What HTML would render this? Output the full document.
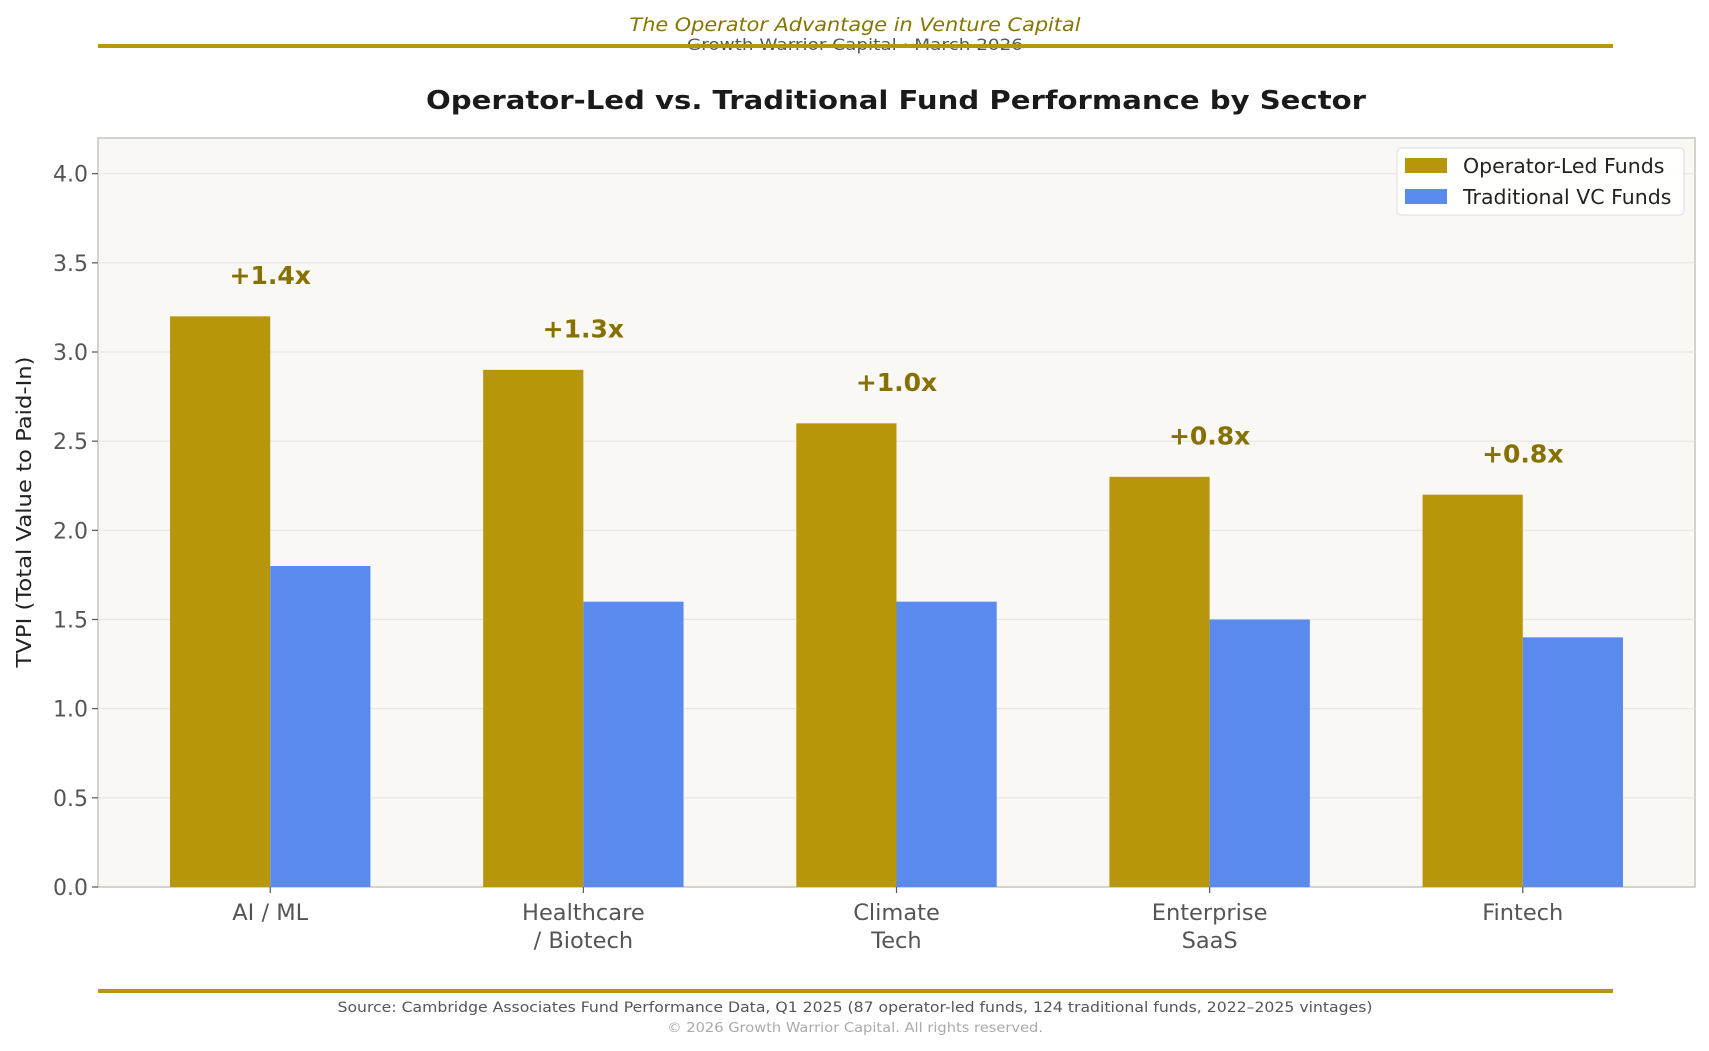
<!DOCTYPE html>
<html><head><meta charset="utf-8"><style>
html,body{margin:0;padding:0;background:#fff;}
svg{display:block;font-family:"DejaVu Sans","Liberation Sans",sans-serif;}
</style></head><body>
<svg id="chart" width="1709" height="1051" viewBox="0 0 1709 1051" xmlns="http://www.w3.org/2000/svg">
<text x="855" y="31" text-anchor="middle" font-size="19" font-style="italic" fill="#857500" textLength="451" lengthAdjust="spacingAndGlyphs">The Operator Advantage in Venture Capital</text>
<text x="855" y="50" text-anchor="middle" font-size="16" fill="#555" textLength="336" lengthAdjust="spacingAndGlyphs">Growth Warrior Capital  ·  March 2026</text>
<rect x="98" y="44" width="1515" height="4" fill="#b8960c"/>
<text x="896" y="109" text-anchor="middle" font-size="26" font-weight="bold" fill="#1a1a1a" textLength="940" lengthAdjust="spacingAndGlyphs">Operator-Led vs. Traditional Fund Performance by Sector</text>
<rect x="98" y="138" width="1597" height="749" fill="#f9f8f5" stroke="#c8c4bc" stroke-width="1.5"/>
<g id="grid"></g>
<g id="bars"></g>
<g id="yaxis"></g>
<g id="xaxis"></g>
<text transform="translate(31,512) rotate(-90)" text-anchor="middle" font-size="20" fill="#222" textLength="311" lengthAdjust="spacingAndGlyphs">TVPI (Total Value to Paid-In)</text>
<g>
<rect x="1397" y="148" width="287" height="67" rx="4" fill="#fff" fill-opacity="0.9" stroke="#ddd"/>
<rect x="1405" y="158" width="42" height="15" fill="#b8960c"/>
<text x="1463" y="173" font-size="20.5" fill="#222">Operator-Led Funds</text>
<rect x="1405" y="189" width="42" height="15" fill="#5b8aee"/>
<text x="1463" y="204" font-size="20.5" fill="#222">Traditional VC Funds</text>
</g>
<rect x="98" y="989" width="1515" height="4" fill="#b8960c"/>
<text x="855" y="1012" text-anchor="middle" font-size="14" fill="#555" textLength="1035" lengthAdjust="spacingAndGlyphs">Source: Cambridge Associates Fund Performance Data, Q1 2025 (87 operator-led funds, 124 traditional funds, 2022–2025 vintages)</text>
<text x="855" y="1032" text-anchor="middle" font-size="13" fill="#aaa" textLength="376" lengthAdjust="spacingAndGlyphs">© 2026 Growth Warrior Capital. All rights reserved.</text>
</svg>
<script>
const categories = [["AI / ML"], ["Healthcare", "/ Biotech"], ["Climate", "Tech"], ["Enterprise", "SaaS"], ["Fintech"]];
const operatorValues = [3.2, 2.9, 2.6, 2.3, 2.2];
const traditionalValues = [1.8, 1.6, 1.6, 1.5, 1.4];
const yTicks = [0, 0.5, 1.0, 1.5, 2.0, 2.5, 3.0, 3.5, 4.0];
const yTickLabels = ["0.0","0.5","1.0","1.5","2.0","2.5","3.0","3.5","4.0"];

const NS = "http://www.w3.org/2000/svg";
const L = 98, R = 1695, T = 138, B = 887;
const xMin = -0.55, xMax = 4.55, yMin = 0, yMax = 4.2;
const xS = v => L + (v - xMin) / (xMax - xMin) * (R - L);
const yS = v => B - (v - yMin) / (yMax - yMin) * (B - T);
const bw = 0.32;
function mk(tag, attrs, parent, text) {
  const e = document.createElementNS(NS, tag);
  for (const k in attrs) e.setAttribute(k, attrs[k]);
  if (text !== undefined) e.textContent = text;
  parent.appendChild(e);
  return e;
}
const grid = document.getElementById('grid');
const yaxis = document.getElementById('yaxis');
yTicks.forEach((t, i) => {
  const y = yS(t);
  if (t > 0) {
    const g = mk('line', {x1: L, x2: R, y1: y, y2: y, stroke: '#e8e6e0', 'stroke-width': 1.2}, grid);
    
    
  }
  const tk = mk('line', {x1: L - 6, x2: L, y1: y, y2: y, stroke: '#555', 'stroke-width': 1.2}, yaxis);
  
  
  const lb = mk('text', {x: L - 10, y: y + 8, 'text-anchor': 'end', 'font-size': 22, fill: '#555'}, yaxis, yTickLabels[i]);
  
  
});
const bars = document.getElementById('bars');
const xaxis = document.getElementById('xaxis');
categories.forEach((c, i) => {
  const x0 = xS(i - bw), x1 = xS(i), x2 = xS(i + bw);
  const b1 = mk('rect', {x: x0, y: yS(operatorValues[i]), width: x1 - x0, height: yS(0) - yS(operatorValues[i]), fill: '#b8960c'}, bars);
  
  
  const b2 = mk('rect', {x: x1, y: yS(traditionalValues[i]), width: x2 - x1, height: yS(0) - yS(traditionalValues[i]), fill: '#5b8aee'}, bars);
  
  
  const diff = operatorValues[i] - traditionalValues[i];
  const an = mk('text', {x: x1, y: yS(operatorValues[i] + 0.18), 'text-anchor': 'middle', 'font-size': 25, 'font-weight': 'bold', fill: '#857000'}, bars, '+' + diff.toFixed(1) + 'x');
  
  
  const tk = mk('line', {x1: x1, x2: x1, y1: B, y2: B + 6, stroke: '#555', 'stroke-width': 1.2}, xaxis);
  
  
  c.forEach((line, j) => {
    const t = mk('text', {x: x1, y: 920 + j * 28, 'text-anchor': 'middle', 'font-size': 22.5, fill: '#555'}, xaxis, line);
    
    
  });
});
</script>
</body></html>
